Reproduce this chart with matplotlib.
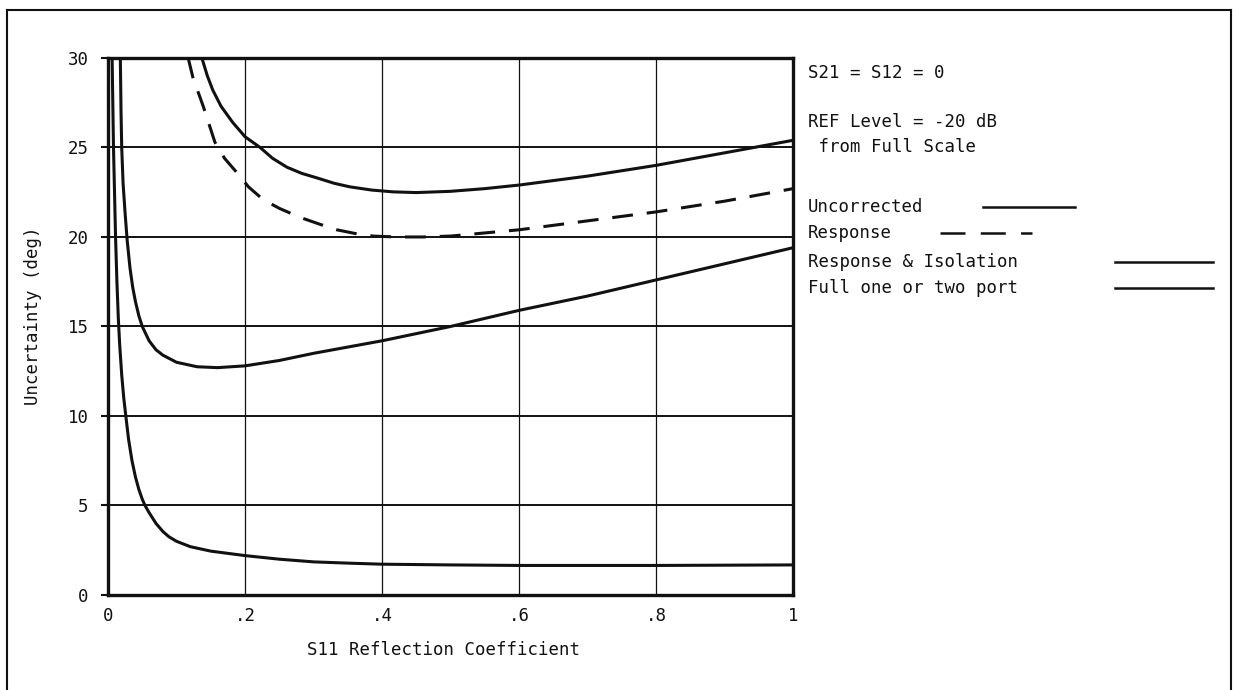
import matplotlib
matplotlib.use("Agg")
import matplotlib.pyplot as plt
from matplotlib.lines import Line2D

plt.rcParams['font.family'] = ['DejaVu Sans Mono', 'DejaVu Sans']
plt.rcParams['lines.scale_dashes'] = False

# curves (x = S11 reflection coefficient, y = uncertainty in deg)
uncorr_x = [0.137, 0.145, 0.153, 0.165, 0.182, 0.2, 0.222, 0.24, 0.261, 0.283, 0.305, 0.33,
            0.353, 0.385, 0.416, 0.45, 0.5, 0.55, 0.6, 0.7, 0.8, 0.9, 1.0]
uncorr_y = [30, 29.0, 28.2, 27.3, 26.4, 25.6, 25.0, 24.4, 23.9, 23.55, 23.3, 23.0,
            22.8, 22.62, 22.52, 22.48, 22.55, 22.7, 22.9, 23.4, 24.0, 24.7, 25.4]

resp_x = [0.117, 0.124, 0.139, 0.156, 0.17, 0.188, 0.205, 0.226, 0.25, 0.28, 0.31, 0.334,
          0.36, 0.387, 0.42, 0.46, 0.5, 0.6, 0.7, 0.8, 0.9, 1.0]
resp_y = [30, 28.9, 27.3, 25.3, 24.4, 23.6, 22.8, 22.1, 21.6, 21.1, 20.7, 20.4,
          20.2, 20.05, 20.0, 20.0, 20.05, 20.4, 20.9, 21.4, 22.0, 22.7]

iso_x = [0.018, 0.019, 0.02, 0.022, 0.025, 0.028, 0.032, 0.036, 0.04, 0.045, 0.05, 0.06,
         0.07, 0.08, 0.1, 0.13, 0.16, 0.2, 0.25, 0.3, 0.4, 0.5, 0.6, 0.7, 0.8, 0.9, 1.0]
iso_y = [30, 27, 25, 23, 21.3, 19.8, 18.3, 17.2, 16.4, 15.6, 15.0, 14.2,
         13.7, 13.4, 13.0, 12.75, 12.7, 12.8, 13.1, 13.5, 14.2, 15.0, 15.9, 16.7, 17.6, 18.5, 19.4]

full_x = [0.006, 0.008, 0.011, 0.013, 0.015, 0.017, 0.02, 0.023, 0.026, 0.03, 0.035, 0.04,
          0.045, 0.05, 0.054, 0.06, 0.07, 0.08, 0.089, 0.1, 0.12, 0.15, 0.2, 0.25, 0.3,
          0.35, 0.4, 0.5, 0.6, 0.8, 1.0]
full_y = [30, 25, 20, 17.5, 15.5, 14.0, 12.3, 11.0, 10.0, 8.7, 7.5, 6.6,
          5.9, 5.35, 5.0, 4.6, 4.0, 3.55, 3.25, 3.0, 2.7, 2.45, 2.2, 2.0, 1.85,
          1.78, 1.72, 1.68, 1.65, 1.65, 1.68]

x_ticks = [0, 0.2, 0.4, 0.6, 0.8, 1.0]
x_labels = ['0', '.2', '.4', '.6', '.8', '1']
y_ticks = [0, 5, 10, 15, 20, 25, 30]

ink = '#111111'
fs = 12.5

fig = plt.figure(figsize=(12.33, 6.9), dpi=100)
ax = fig.add_axes([0.0876, 0.1377, 0.5556, 0.7783])

ax.plot(uncorr_x, uncorr_y, color=ink, lw=2.2)
ax.plot(resp_x, resp_y, color=ink, lw=2.2, dashes=(15, 10))
ax.plot(iso_x, iso_y, color=ink, lw=2.2)
ax.plot(full_x, full_y, color=ink, lw=2.2)

ax.set_xlim(0, 1)
ax.set_ylim(0, 30)
ax.set_xticks(x_ticks)
ax.set_xticklabels(x_labels)
ax.set_yticks(y_ticks)
ax.tick_params(axis='y', length=5, width=1.5, color=ink, pad=9, labelsize=fs, labelcolor=ink)
ax.tick_params(axis='x', length=0, pad=9, labelsize=fs, labelcolor=ink)

ax.xaxis.grid(True, color=ink, lw=0.9)
ax.yaxis.grid(True, color=ink, lw=1.4)
for s in ax.spines.values():
    s.set_linewidth(2.4)
    s.set_color(ink)

ax.set_xlabel('S11 Reflection Coefficient', fontsize=fs, color=ink)
ax.xaxis.set_label_coords(0.489, -0.086)
ax.set_ylabel('Uncertainty (deg)', fontsize=fs, color=ink)
ax.yaxis.set_label_coords(-0.097, 0.52)

# notes and legend at the right
tx = 808 / 1233
def fy(py):
    return 1 - py / 690

fig.text(tx, fy(73), 'S21 = S12 = 0', fontsize=fs, color=ink, va='center')
fig.text(tx, fy(122), 'REF Level = -20 dB', fontsize=fs, color=ink, va='center')
fig.text(tx, fy(147), ' from Full Scale', fontsize=fs, color=ink, va='center')

legend_rows = [
    ('Uncorrected', 207, 983, 1075, None),
    ('Response', 233, 940, 1032, (18, 11)),
    ('Response & Isolation', 262, 1115, 1213, None),
    ('Full one or two port', 288, 1115, 1213, None),
]
for name, py, x0, x1, dash in legend_rows:
    fig.text(tx, fy(py), name, fontsize=fs, color=ink, va='center')
    ln = Line2D([x0 / 1233, x1 / 1233], [fy(py), fy(py)], transform=fig.transFigure,
                color=ink, lw=1.8)
    if dash:
        ln.set_dashes(dash)
    fig.add_artist(ln)

# page frame
for xs, ys in [([7, 1231], [10, 10]), ([7, 7], [10, 690]), ([1231, 1231], [10, 690])]:
    fig.add_artist(Line2D([v / 1233 for v in xs], [fy(v) for v in ys],
                          transform=fig.transFigure, color=ink, lw=1.5))

fig.savefig('out.png', dpi=100, facecolor='white')
